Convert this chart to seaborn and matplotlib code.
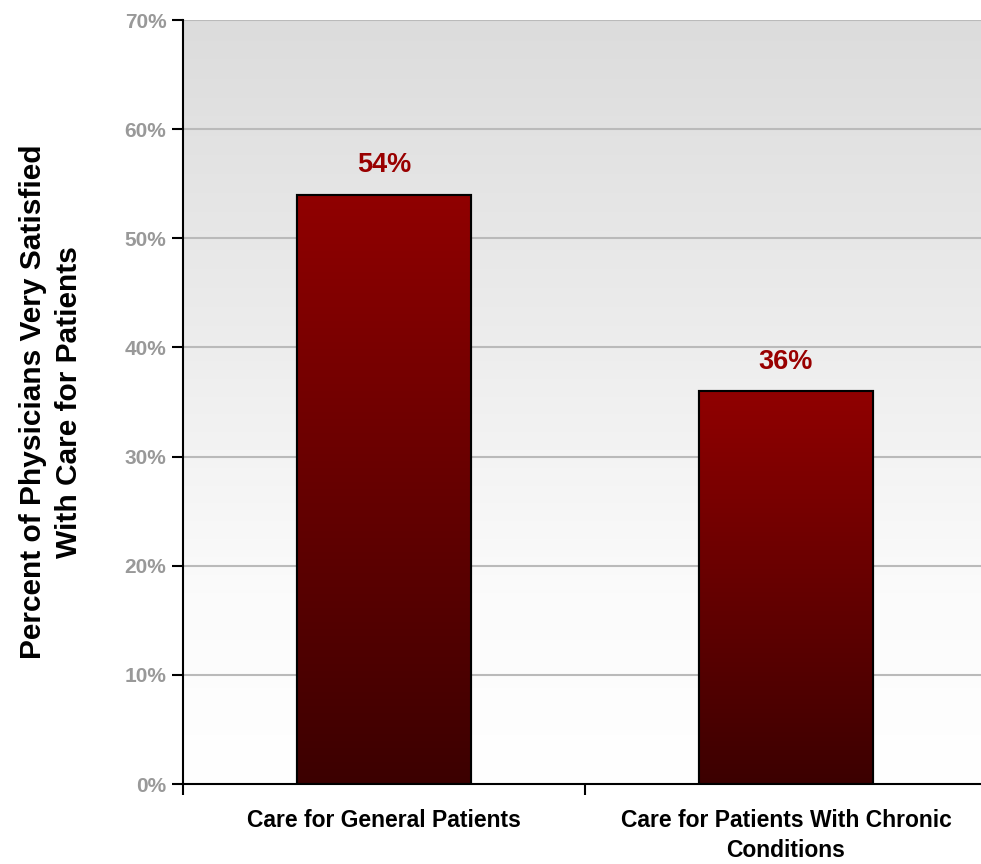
import numpy as np
import pandas as pd
import matplotlib
matplotlib.use("Agg")
import matplotlib.pyplot as plt
import seaborn as sns
from matplotlib.colors import LinearSegmentedColormap

# chart data
categories = ["Care for General Patients", "Care for Patients With Chronic\nConditions"]
values = [54, 36]
value_labels = ["54%", "36%"]
y_ticks = [0, 10, 20, 30, 40, 50, 60, 70]
y_tick_labels = ["0%", "10%", "20%", "30%", "40%", "50%", "60%", "70%"]

sns.set_style("white")
plt.rcParams['font.family'] = ['Liberation Sans', 'DejaVu Sans']

W, H = 981, 864
fig = plt.figure(figsize=(W / 100, H / 100), dpi=100)
ax = fig.add_axes([183 / W, 80 / H, 804 / W, 764 / H])

df = pd.DataFrame({"cat": categories, "val": values})
sns.barplot(data=df, x="cat", y="val", ax=ax, width=0.435,
            color="#8b0000", edgecolor="black", linewidth=1.5, zorder=3)

ax.set_xlim(-0.5, 1.5)
ax.set_ylim(0, 70)

# background gradient: gray at top, white toward the bottom
bg = np.linspace(0, 1, 256).reshape(-1, 1)
bg_cmap = LinearSegmentedColormap.from_list(
    "bg", [(0, "#ffffff"), (0.25, "#fbfbfb"), (0.6, "#ececec"), (1, "#dcdcdc")])
ax.imshow(bg, extent=(-0.5, 1.5, 0, 70), origin="lower", aspect="auto",
          cmap=bg_cmap, zorder=0)

# bar gradient: bright red top, dark bottom
bar_cmap = LinearSegmentedColormap.from_list("bar", ["#3c0000", "#900000"])
grad = np.linspace(0, 1, 256).reshape(-1, 1)
bars = list(ax.patches)
for i, p in enumerate(bars):
    x0, y0 = p.get_x(), p.get_y()
    w, h = p.get_width(), p.get_height()
    im = ax.imshow(grad, extent=(x0, x0 + w, y0, y0 + h), origin="lower",
                   aspect="auto", cmap=bar_cmap, zorder=3.5)
    im.set_clip_path(p)
    ax.add_patch(plt.Rectangle((x0, y0), w, h, fill=False, edgecolor="black",
                               linewidth=1.5, zorder=4))
    ax.text(x0 + w / 2, y0 + h + 2.7, value_labels[i],
            ha="center", va="center", color="#990000", fontsize=19.5,
            fontweight="bold", zorder=5)

ax.set_ylim(0, 70)
ax.set_xlim(-0.5, 1.5)

for t in y_ticks[1:]:
    ax.axhline(t, color="#bababa", linewidth=1.5, zorder=1)

ax.set_yticks(y_ticks)
ax.set_yticklabels(y_tick_labels, color="#999999", fontsize=15, fontweight="bold")
ax.set_xticks([-0.5, 0.5, 1.5], minor=False)
ax.set_xticklabels([])
ax.set_xticks([0, 1], minor=True)
ax.set_xticklabels(categories, minor=True, fontsize=16.5, fontweight="bold",
                   color="black", linespacing=1.4)
ax.tick_params(axis="x", which="minor", length=0, pad=18)
ax.tick_params(axis="x", which="major", length=8, width=1.5, color="black",
               direction="out", bottom=True)
ax.tick_params(axis="y", length=8, width=1.5, color="black", direction="out",
               left=True, pad=4)

for s in ["top", "right"]:
    ax.spines[s].set_visible(False)
for s in ["left", "bottom"]:
    ax.spines[s].set_color("black")
    ax.spines[s].set_linewidth(1.5)
    ax.spines[s].set_zorder(6)

ax.set_xlabel("")
ax.set_ylabel("Percent of Physicians Very Satisfied\nWith Care for Patients",
              fontsize=21.5, fontweight="bold", color="black", labelpad=30,
              linespacing=1.35)

fig.savefig("out.png", dpi=100)
